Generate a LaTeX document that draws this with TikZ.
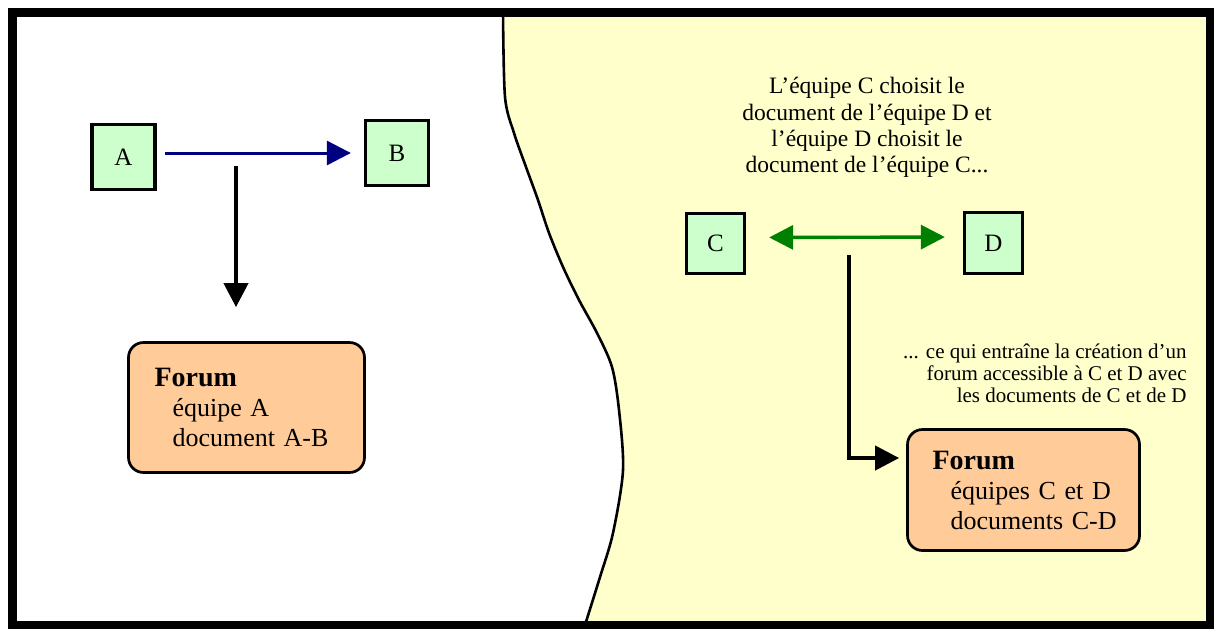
\documentclass[tikz,border=0pt]{standalone}
\usepackage{fontspec}
\setmainfont{Liberation Serif}
\usetikzlibrary{arrows.meta}
\definecolor{teamgreen}{HTML}{CCFFCC}
\definecolor{paleyellow}{HTML}{FFFFCC}
\definecolor{forumorange}{HTML}{FFCC99}
\definecolor{linkblue}{HTML}{000080}
\definecolor{linkgreen}{HTML}{008000}
\tikzset{
  head/.tip={Triangle[length=12pt,width=12pt]},
  team/.style={draw=black,line width=1.65pt,fill=teamgreen,minimum width=31.5pt,minimum height=32.5pt,inner sep=0pt,font=\fontsize{12.5}{14}\selectfont},
  forum/.style={draw=black,line width=1.35pt,fill=forumorange,rounded corners=7.5pt,inner xsep=4pt,align=left,font=\fontsize{13}{15}\selectfont},
  link/.style={line width=2pt,-head},
}
\begin{document}
\begin{tikzpicture}[x=0.5pt,y=-0.5pt]
    \useasboundingbox (0,0) rectangle (1214,628);
    \filldraw [fill=paleyellow,draw=black,line width=1.3pt] plot[smooth] coordinates {(503,12) (505,97) (514,133) (526,167) (538,200) (549,233) (563,267) (579,300) (597,333) (612,367) (619,410) (623,470) (613,533) (600,577) (585,625)} -- (1210,625) -- (1210,12) -- cycle;
    \draw [line width=4.5pt] (12,12) rectangle (1210,625);
    \node[team] (A) at (123.5,157) {A};
    \node[team] (B) at (397,153) {B};
    \node[team,minimum width=29pt,minimum height=30pt] (C) at (715.5,243.5) {C};
    \node[team,minimum width=29pt,minimum height=30.5pt] (D) at (993.5,243) {D};
    \node[forum,text width=110pt,minimum height=65pt] (fa) at (246.5,407.5) {\hspace*{9pt}{\fontsize{14}{16}\selectfont\bfseries Forum}\\ \hspace*{18pt}équipe A\\ \hspace*{18pt}document A-B};
    \node[forum,text width=108pt,minimum height=60.5pt] (fcd) at (1023.5,490) {\hspace*{8.5pt}{\fontsize{14}{16}\selectfont\bfseries Forum}\\ \hspace*{17.5pt}équipes C et D\\ \hspace*{17.5pt}documents C-D};
    \node[anchor=north,align=center,inner sep=0pt,font=\fontsize{11.75}{13.2}\selectfont] (choice) at (867,77) {L’équipe C choisit le\\document de l’équipe D et\\l’équipe D choisit le\\document de l’équipe C...};
    \node[anchor=north east,align=right,inner sep=0pt,font=\fontsize{10.5}{11}\selectfont] (result) at (1187,343) {... ce qui entraîne la création d’un\\forum accessible à C et D avec\\les documents de C et de D};
    \coordinate (splitA) at (236,166);
    \coordinate (splitC) at (849,255);
    \draw[link,line width=1.5pt,linkblue,shorten <=4.2pt,shorten >=6.5pt] (A.east |- B.west) -- (B.west);
    \draw[link,shorten >=17pt] (splitA) -- (splitA |- fa.north);
    \draw[line width=1.7pt,linkgreen,head-head,shorten <=11.5pt,shorten >=9pt] ([yshift=3pt]C.east) -- ([yshift=3pt]D.west);
    \draw[link,shorten >=3.5pt] (splitC) |- ([yshift=16pt]fcd.west);
\end{tikzpicture}
\end{document}
